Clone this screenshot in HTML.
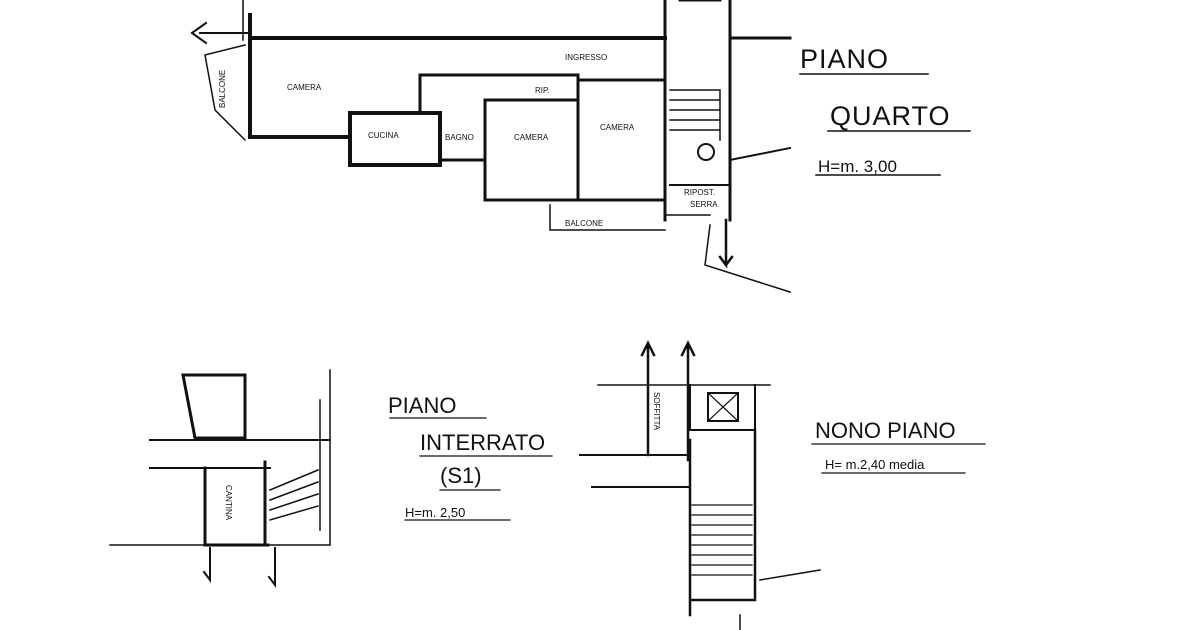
<!DOCTYPE html>
<html><head><meta charset="utf-8"><style>
html,body{margin:0;padding:0;background:#fff;}
svg{display:block}
text{font-family:"Liberation Sans",sans-serif;fill:#111}
</style></head><body>
<svg width="1200" height="630" viewBox="0 0 1200 630" xmlns="http://www.w3.org/2000/svg">
<g stroke="#111" fill="none" stroke-linecap="square">
<!-- top plan -->
<path d="M250 38 H665" stroke-width="4"/>
<path d="M200 33 H250" stroke-width="2"/>
<path d="M192 33 l14 -10 M192 33 l14 10" stroke-width="2"/>
<path d="M250 15 V137 H350" stroke-width="4"/>
<path d="M243 0 V40 M205 55 L245 45 M205 55 L215 110 L245 140" stroke-width="1.5"/>
<path d="M350 113 H440 V165 H350 Z" stroke-width="4"/>
<path d="M420 113 V75 H485 M440 160 H485" stroke-width="3"/>
<path d="M485 100 V200 H578 M485 100 H578 M485 75 H578 V100" stroke-width="3"/>
<path d="M578 80 H665 V200 H578 V100" stroke-width="3"/>
<path d="M665 0 V220 M730 0 V220 M680 0 H720" stroke-width="3"/>
<path d="M730 38 H790" stroke-width="3"/>
<path d="M670 90 H720 M670 100 H720 M670 110 H720 M670 120 H720 M670 130 H720 M720 90 V140" stroke-width="1.5"/>
<circle cx="706" cy="152" r="8" stroke-width="2"/>
<path d="M670 185 H730 M730 160 L790 148" stroke-width="2"/>
<path d="M550 205 V230 H665 M665 215 L710 215 M710 225 L705 265 L790 292" stroke-width="1.5"/>
<path d="M726 220 V265 l-6 -8 M726 265 l6 -8" stroke-width="2.5"/>
<!-- underlines -->
<path d="M800 74 H928 M828 131 H970 M816 175 H940" stroke-width="1.5"/>
<!-- bottom left -->
<path d="M183 375 H245 V438 H195 Z" stroke-width="3"/>
<path d="M150 440 H330 M150 468 H270" stroke-width="2"/>
<path d="M205 468 V545 M265 462 V545 M205 545 H268" stroke-width="3"/>
<path d="M110 545 H330 M330 370 V545 M320 400 V530" stroke-width="1.5"/>
<path d="M270 490 L318 470 M270 500 L318 482 M270 510 L318 494 M270 520 L318 506" stroke-width="1.5"/>
<path d="M210 548 V580 l-6 -8 M275 548 V585 l-6 -8" stroke-width="2"/>
<path d="M390 418 H486 M420 456 H552 M440 490 H500 M405 520 H510" stroke-width="1.2"/>
<!-- bottom right -->
<path d="M598 385 H770" stroke-width="1.5"/>
<path d="M648 345 V455 M688 345 V460 M642 355 l6 -12 l6 12 M682 355 l6 -12 l6 12" stroke-width="2.5"/>
<path d="M690 385 V430 H755 V385" stroke-width="2"/>
<rect x="708" y="393" width="30" height="28" stroke-width="2"/>
<path d="M708 393 L738 421 M738 393 L708 421" stroke-width="1.2"/>
<path d="M580 455 H690 M592 487 H690" stroke-width="2"/>
<path d="M690 440 V615 M755 430 V600 M690 600 H755" stroke-width="2.5"/>
<path d="M692 505 H752 M692 515 H752 M692 525 H752 M692 535 H752 M692 545 H752 M692 555 H752 M692 565 H752 M692 575 H752" stroke-width="1.2"/>
<path d="M760 580 L820 570 M740 615 V630" stroke-width="1.5"/>
<path d="M812 444 H985 M822 473 H965" stroke-width="1.2"/>
</g>
<g font-size="8">
<text x="287" y="90">CAMERA</text>
<text x="368" y="138">CUCINA</text>
<text x="445" y="140">BAGNO</text>
<text x="514" y="140">CAMERA</text>
<text x="600" y="130">CAMERA</text>
<text x="535" y="93">RIP.</text>
<text x="565" y="60">INGRESSO</text>
<text x="565" y="226">BALCONE</text>
<text x="684" y="195">RIPOST.</text>
<text x="690" y="207">SERRA</text>
<text x="225" y="108" transform="rotate(-90 225 108)">BALCONE</text>
<text x="226" y="485" transform="rotate(90 226 485)">CANTINA</text>
<text x="654" y="392" transform="rotate(90 654 392)">SOFFITTA</text>
</g>
<g font-size="27" letter-spacing="1">
<text x="800" y="68">PIANO</text>
<text x="830" y="125">QUARTO</text>
</g>
<text x="818" y="172" font-size="17">H=m. 3,00</text>
<g font-size="22">
<text x="388" y="413">PIANO</text>
<text x="420" y="450">INTERRATO</text>
<text x="440" y="483">(S1)</text>
<text x="815" y="438">NONO PIANO</text>
</g>
<text x="405" y="517" font-size="13">H=m. 2,50</text>
<text x="825" y="469" font-size="13">H= m.2,40 media</text>
</svg>
</body></html>
